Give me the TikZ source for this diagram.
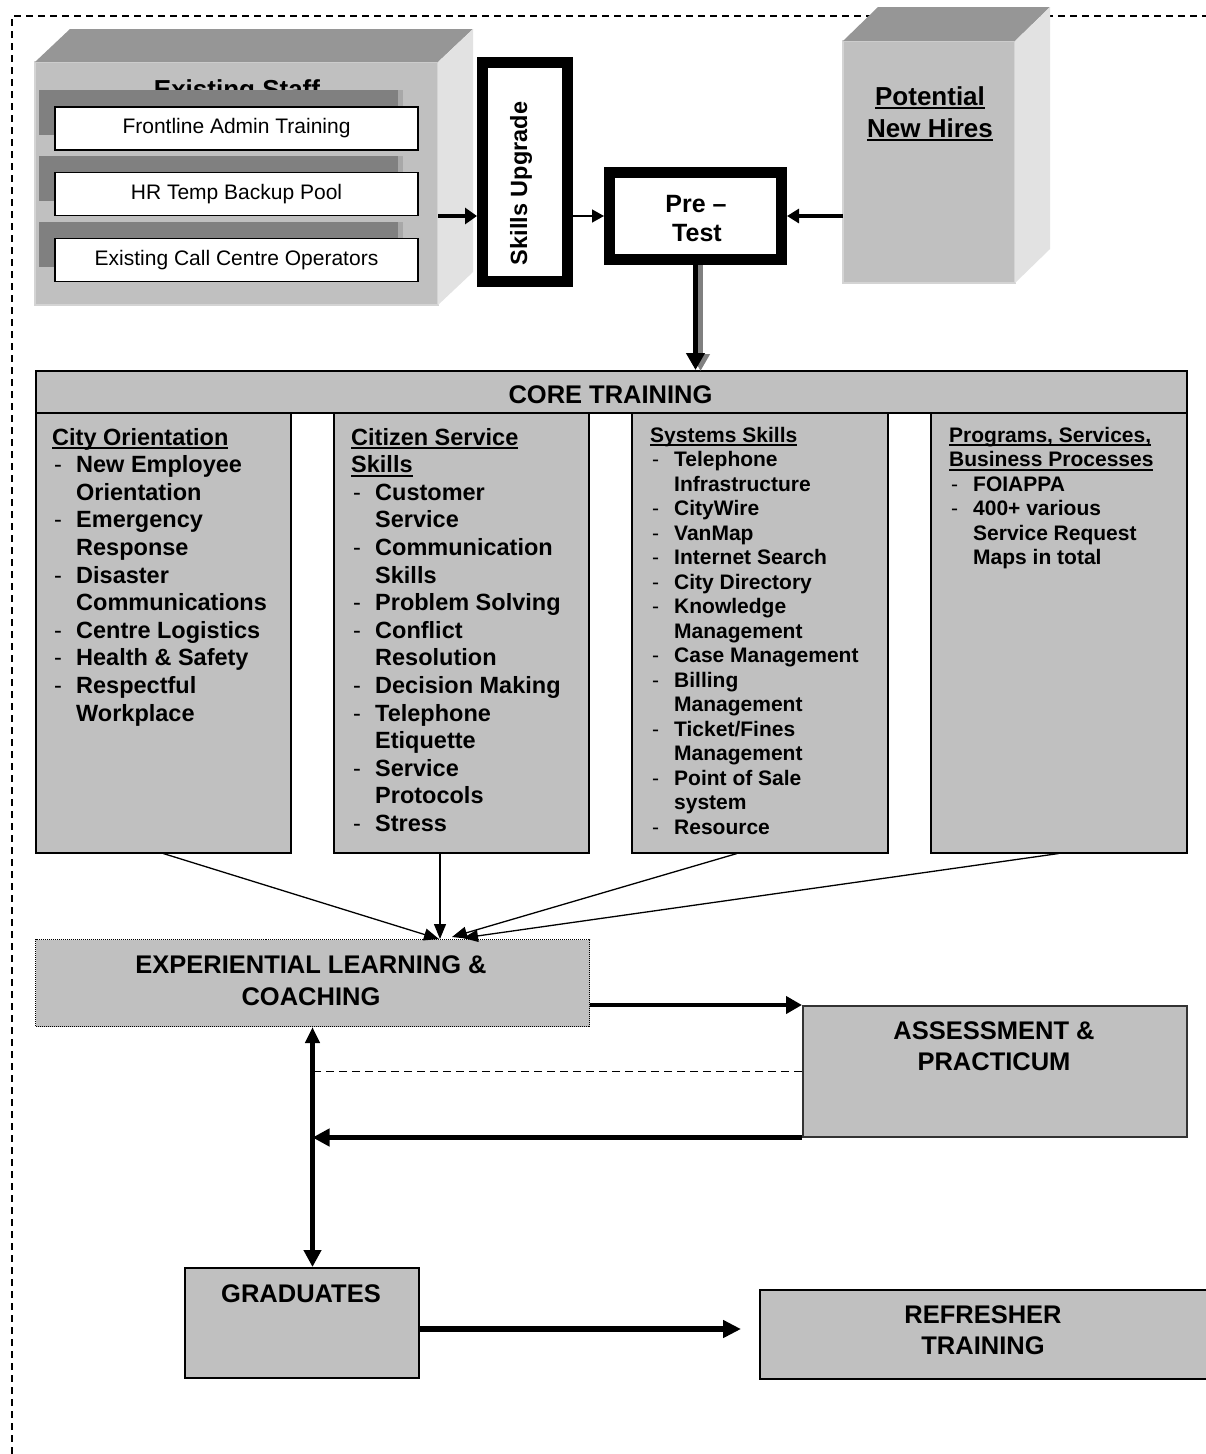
\documentclass[tikz,border=0pt]{standalone}
\usepackage{fontspec}
\setmainfont{Liberation Sans}
\usetikzlibrary{arrows.meta,calc}
\definecolor{boxgray}{HTML}{C0C0C0}
\definecolor{topgray}{HTML}{969696}
\definecolor{sidegray}{HTML}{E2E2E2}
\definecolor{bargray}{HTML}{808080}
\definecolor{edgegray}{HTML}{D4D4D4}
\definecolor{stripgray}{HTML}{A8A8A8}
\newcommand\myul[1]{\setbox0\hbox{#1}\rlap{\rule[-4pt]{\wd0}{1.8pt}}\box0}
\newcommand\itemdash{\makebox[24pt][l]{\hspace{2pt}\mdseries -}}
\newcommand\itemcont{\hspace*{24pt}}
\begin{document}
\begin{tikzpicture}[x=1pt,y=-1pt,
  box/.style={draw=black, line width=1.5pt, fill=boxgray, inner sep=0pt, anchor=north west},
  front/.style={draw=edgegray, line width=2pt, fill=boxgray, inner sep=0pt, outer sep=0pt, anchor=north west},
  bar/.style={fill=bargray, inner sep=0pt, outer sep=0pt, anchor=north west, minimum width=364pt, minimum height=45pt},
  wbox/.style={draw=black, line width=1.5pt, fill=white, inner sep=0pt, minimum width=363pt, minimum height=43pt, font=\fontsize{21}{24}\selectfont},
  thickbox/.style={draw=black, line width=11pt, fill=white, inner sep=0pt, anchor=north west},
  thickarrow/.style={line width=5pt, -{Triangle[length=17pt,width=17pt]}},
  thinarrow/.style={line width=1.3pt, -{Triangle[length=15pt,width=12pt]}},
  colA/.style={anchor=base west, inner sep=0pt, font=\fontsize{23.5}{28}\selectfont\bfseries},
  colB/.style={anchor=base west, inner sep=0pt, font=\fontsize{21}{24}\selectfont\bfseries},
  bigtxt/.style={anchor=base, inner sep=0pt, font=\fontsize{25.5}{30}\selectfont\bfseries},
  frame/.style={line width=1.5pt, dash pattern=on 7pt off 5pt}]
\useasboundingbox (0,0) rectangle (1206,1454);
\fill[white] (0,0) rectangle (1206,1454);

% outer dashed frame
\draw[frame] (12,1454) -- (12,16) -- (1206,16);

% Existing staff 3D box
\node[front, minimum width=403pt, minimum height=243pt] (staff) at (35,62) {};
\fill[topgray] (staff.north west) -- ++(35,-33) -- ++(403,0) -- (staff.north east) -- cycle;
\fill[sidegray] (staff.north east) -- ++(35,-33) -- ++(0,243) -- (staff.south east) -- cycle;
\node[bigtxt, font=\fontsize{26}{30}\selectfont\bfseries] (stafft) at (237,98) {Existing Staff};
\node[bar] (bara) at (39,90) {};
\node[bar] (barb) at (39,156) {};
\node[bar] (barc) at (39,222) {};
\fill[stripgray] (398,90) rectangle (403,135);
\fill[stripgray] (398,156) rectangle (403,201);
\fill[stripgray] (398,222) rectangle (403,267);
\node[wbox] (fa) at (236.5,128.5) {Frontline Admin Training};
\node[wbox] (fb) at (236.5,194) {HR Temp Backup Pool};
\node[wbox] (fc) at (236.5,260) {Existing Call Centre Operators};

% Potential new hires 3D box
\node[front, minimum width=172pt, minimum height=242pt] (hires) at (843,41) {};
\fill[topgray] (hires.north west) -- ++(35,-34) -- ++(172,0) -- (hires.north east) -- cycle;
\fill[sidegray] (hires.north east) -- ++(35,-34) -- ++(0,242) -- (hires.south east) -- cycle;
\node[bigtxt, font=\fontsize{26}{30}\selectfont\bfseries] (hirest1) at (930,105) {\myul{Potential}};
\node[bigtxt, font=\fontsize{26}{30}\selectfont\bfseries] (hirest2) at (930,137) {\myul{New Hires}};

% Skills upgrade and pre-test
\node[thickbox, minimum width=85pt, minimum height=219pt] (skills) at (477,57) {};
\node[rotate=90, inner sep=0pt, font=\fontsize{23.5}{28}\selectfont\bfseries] (skillst) at (521,183.5) {Skills Upgrade};
\node[thickbox, minimum width=172pt, minimum height=87pt] (pre) at (604,167) {};
\node[bigtxt, font=\fontsize{25}{30}\selectfont\bfseries] (pret1) at (696,212) {Pre –};
\node[bigtxt, font=\fontsize{25}{30}\selectfont\bfseries] (pret2) at (697,241) {Test};

\draw[line width=4.5pt, -{Triangle[length=12pt,width=16pt]}] (staff.east |- pre.center) -- (skills.west |- pre.center);
\draw[line width=1.5pt, -{Triangle[length=12pt,width=13pt]}] (skills.east |- pre.center) -- (pre.west);
\draw[line width=4pt, -{Triangle[length=12pt,width=14pt]}] (hires.west |- pre.center) -- (pre.east);

% Core training
\node[box, line width=2pt, minimum width=1151pt, minimum height=42pt] (core) at (35,370) {};
\node[bigtxt] (coret) at (610.5,403) {CORE TRAINING};
\draw[line width=5pt, bargray, -{Triangle[length=17pt,width=18pt]}] ($(pre.south)+(5,0)$) -- ($(pre.south |- core.north)+(5,1)$);
\draw[line width=5pt, -{Triangle[length=17pt,width=18pt]}] (pre.south) -- (pre.south |- core.north);

\node[box, minimum width=255pt, minimum height=440pt] (col1) at (35,412) {};
\node[box, minimum width=255pt, minimum height=440pt] (col2) at (333,412) {};
\node[box, minimum width=256pt, minimum height=440pt] (col3) at (631,412) {};
\node[box, minimum width=256pt, minimum height=440pt] (col4) at (930,412) {};

\foreach \lineT [count=\i from 0] in {
  {\myul{City Orientation}},
  {\itemdash New Employee},
  {\itemcont Orientation},
  {\itemdash Emergency},
  {\itemcont Response},
  {\itemdash Disaster},
  {\itemcont Communications},
  {\itemdash Centre Logistics},
  {\itemdash Health \& Safety},
  {\itemdash Respectful},
  {\itemcont Workplace}}
  {\node[colA] (ca\i) at (52,{445+27.6*\i}) {\lineT};}

\foreach \lineT [count=\i from 0] in {
  {\myul{Citizen Service}},
  {\myul{Skills}},
  {\itemdash Customer},
  {\itemcont Service},
  {\itemdash Communication},
  {\itemcont Skills},
  {\itemdash Problem Solving},
  {\itemdash Conflict},
  {\itemcont Resolution},
  {\itemdash Decision Making},
  {\itemdash Telephone},
  {\itemcont Etiquette},
  {\itemdash Service},
  {\itemcont Protocols},
  {\itemdash Stress}}
  {\node[colA] (cb\i) at (351,{445+27.6*\i}) {\lineT};}

\foreach \lineT [count=\i from 0] in {
  {\myul{Systems Skills}},
  {\itemdash Telephone},
  {\itemcont Infrastructure},
  {\itemdash CityWire},
  {\itemdash VanMap},
  {\itemdash Internet Search},
  {\itemdash City Directory},
  {\itemdash Knowledge},
  {\itemcont Management},
  {\itemdash Case Management},
  {\itemdash Billing},
  {\itemcont Management},
  {\itemdash Ticket/Fines},
  {\itemcont Management},
  {\itemdash Point of Sale},
  {\itemcont system},
  {\itemdash Resource}}
  {\node[colB] (cc\i) at (650,{442+24.5*\i}) {\lineT};}

\foreach \lineT [count=\i from 0] in {
  {\myul{Programs, Services,}},
  {\myul{Business Processes}},
  {\itemdash FOIAPPA},
  {\itemdash 400+ various},
  {\itemcont Service Request},
  {\itemcont Maps in total}}
  {\node[colB] (cd\i) at (949,{442+24.5*\i}) {\lineT};}

% Experiential learning
\node[box, line width=1pt, dash pattern=on 1pt off 1pt, minimum width=554pt, minimum height=87pt] (exp) at (35,939) {};
\node[bigtxt] (expt1) at (311,973) {EXPERIENTIAL LEARNING \&};
\node[bigtxt] (expt2) at (311,1005) {COACHING};

\draw[thinarrow] (col1.south) -- ($(exp.north west)+(404,0)$);
\draw[thinarrow] ($(col2.south west)+(107,0)$) -- ($(exp.north west)+(405,0)$);
\draw[thinarrow] ($(col3.south west)+(106,0)$) -- ($(exp.north west)+(417,-2)$);
\draw[thinarrow] (col4.south) -- ($(exp.north west)+(428,-1)$);

% Assessment
\node[box, draw=black!80, minimum width=384pt, minimum height=131pt] (assess) at (802,1005) {};
\node[bigtxt] (asst1) at (994,1039) {ASSESSMENT \&};
\node[bigtxt] (asst2) at (994,1070) {PRACTICUM};

\draw[thickarrow, line width=4.5pt, -{Triangle[length=16pt,width=17pt]}] (exp.east |- assess.north) -- (assess.north west);
\draw[line width=1.2pt, dash pattern=on 8pt off 5pt] (assess.west) -- (assess.west -| exp.south);
\draw[thickarrow] (assess.south west) -- (assess.south west -| exp.south);

% Graduates and refresher
\node[box, line width=2pt, minimum width=234pt, minimum height=110pt] (grad) at (184,1267) {};
\node[bigtxt] (gradt) at (301,1302) {GRADUATES};
\node[box, minimum width=448pt, minimum height=89pt] (refr) at (759,1289) {};
\node[bigtxt] (refrt1) at (983,1323) {REFRESHER};
\node[bigtxt] (refrt2) at (983,1354) {TRAINING};

\draw[line width=5pt, {Triangle[length=16pt,width=14pt]}-{Triangle[length=17pt,width=17pt]}] (exp.south) -- (exp.south |- grad.north);
\coordinate (gtip) at (741,1329);
\draw[thickarrow, line width=5.5pt, -{Triangle[length=18pt,width=17pt]}] (grad.east |- gtip) -- (gtip);
\end{tikzpicture}
\end{document}
